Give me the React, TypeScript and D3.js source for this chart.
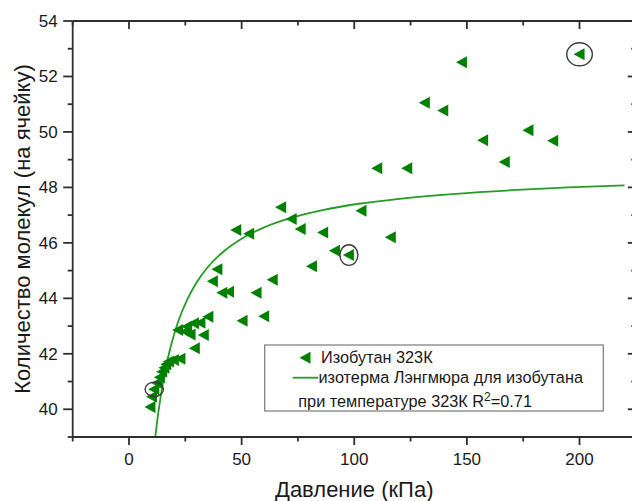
import React from "react";
import * as d3 from "d3";

// Scatter data: pressure (kPa) and number of molecules per cell
const pressure = [
  9.3, 10.0, 11.0, 12.3, 13.5, 14.5, 15.5, 16.3, 17.5, 19.7,
  22.6, 21.6, 24.9, 25.6, 27.1, 28.6, 31.5, 33.0, 35.0, 29.0,
  37.0, 39.0, 41.2, 44.2, 47.4, 50.2, 53.1, 56.4, 59.8, 63.6,
  67.3, 72.0, 76.0, 81.0, 86.0, 91.2, 97.4, 103.0, 110.0, 116.0,
  123.3, 131.1, 139.3, 147.6, 157.0, 166.6, 177.1, 188.1, 199.8,
];
const molecules = [
  40.08, 40.45, 40.72, 40.95, 41.15, 41.35, 41.5, 41.62, 41.72, 41.78,
  41.82, 42.86, 42.8, 42.98, 42.7, 43.1, 43.12, 42.68, 43.34, 42.2,
  44.62, 45.05, 44.2, 44.24, 46.46, 43.19, 46.33, 44.2, 43.35, 44.67,
  47.28, 46.86, 46.5, 45.16, 46.37, 45.72, 45.56, 47.16, 48.69, 46.2,
  48.69, 51.05, 50.77, 52.51, 49.7, 48.92, 50.06, 49.68, 52.8,
];

// Circled (highlighted) points: indices into the arrays above
const highlighted = [2, 36, 48];

// Langmuir isotherm fit
const fitPressure = [
  11.6, 12.5, 13.5, 15, 17, 19, 22, 26, 30, 35, 42, 50, 60, 72, 86,
  102, 120, 145, 170, 195, 220,
];
const fitMolecules = [
  38.96, 39.57, 40.16, 40.92, 41.75, 42.41, 43.2, 43.98, 44.57, 45.13,
  45.69, 46.15, 46.56, 46.9, 47.18, 47.41, 47.59, 47.77, 47.9, 48.0, 48.07,
];

const xMajorTicks = [0, 50, 100, 150, 200];
const xMinorTicks = [-25, 25, 75, 125, 175];
const yMajorTicks = [40, 42, 44, 46, 48, 50, 52, 54];
const yMinorTicks = [39, 41, 43, 45, 47, 49, 51, 53];

const xTitle = "Давление (кПа)";
const yTitle = "Количество молекул (на ячейку)";
const legendSeries = "Изобутан 323К";
const legendFit1 = "изотерма Лэнгмюра для изобутана";
const legendFit2a = "при температуре 323К R";
const legendFit2b = "2";
const legendFit2c = "=0.71";

const W = 632;
const H = 501;
const L = 72.7;
const R = 635.8;
const T = 21;
const B = 437;

const AXIS = "#2e2e2e";
const TEXT = "#1a1a1a";
const MARK = "#008000";
const FIT = "#259c25";
const FONT = "'Liberation Sans', Arial, sans-serif";

export default function App() {
  const x = d3.scaleLinear().domain([-25, 225]).range([L, R]);
  const y = d3.scaleLinear().domain([39, 54]).range([B, T]);

  const fitData = fitPressure.map((p, i) => [p, fitMolecules[i]] as [number, number]);
  const line = d3
    .line<[number, number]>()
    .x((d) => x(d[0]))
    .y((d) => y(d[1]))
    .curve(d3.curveMonotoneX);

  const tri = (cx: number, cy: number) =>
    `M${cx - 5.5},${cy} L${cx + 5.5},${cy - 6} L${cx + 5.5},${cy + 6} Z`;

  const circleR: Record<number, [number, number]> = {
    2: [9.2, 7.2],
    36: [9, 10.3],
    48: [12.8, 11.5],
  };

  return (
    <div style={{ position: "absolute", left: 0, top: 0, width: W, height: H, background: "#fff" }}>
      <svg width={W} height={H} style={{ display: "block" }} fontFamily={FONT}>
        <defs>
          <clipPath id="plotClip">
            <rect x={L} y={T} width={R - L} height={B - T} />
          </clipPath>
        </defs>

        {/* fit curve */}
        <path
          d={line(fitData) || ""}
          fill="none"
          stroke={FIT}
          strokeWidth={1.8}
          clipPath="url(#plotClip)"
        />

        {/* markers */}
        {pressure.map((p, i) => (
          <path key={i} d={tri(x(p), y(molecules[i]))} fill={MARK} />
        ))}

        {/* highlight circles */}
        {highlighted.map((i) => (
          <ellipse
            key={"c" + i}
            cx={x(pressure[i]) + 0.5}
            cy={y(molecules[i])}
            rx={circleR[i][0]}
            ry={circleR[i][1]}
            fill="none"
            stroke="#3a3a3a"
            strokeWidth={1.4}
          />
        ))}

        {/* axes lines */}
        <g stroke={AXIS} strokeWidth={1.8} fill="none">
          <line x1={L} y1={T} x2={L} y2={B} />
          <line x1={L} y1={B} x2={R} y2={B} />
          <line x1={L} y1={T} x2={R} y2={T} />
          <line x1={R} y1={T} x2={R} y2={B} />
        </g>

        {/* ticks */}
        <g stroke={AXIS} strokeWidth={1.8}>
          {xMajorTicks.map((t) => (
            <g key={"xm" + t}>
              <line x1={x(t)} x2={x(t)} y1={B} y2={B + 8} />
              <line x1={x(t)} x2={x(t)} y1={T} y2={T + 8} />
            </g>
          ))}
          {xMinorTicks.map((t) => (
            <g key={"xn" + t}>
              <line x1={x(t)} x2={x(t)} y1={B} y2={B + 4.5} />
              <line x1={x(t)} x2={x(t)} y1={T} y2={T + 4.5} />
            </g>
          ))}
          {yMajorTicks.map((t) => (
            <g key={"ym" + t}>
              <line x1={L - 9.5} x2={L} y1={y(t)} y2={y(t)} />
              <line x1={R - 8} x2={R} y1={y(t)} y2={y(t)} />
            </g>
          ))}
          {yMinorTicks.map((t) => (
            <g key={"yn" + t}>
              <line x1={L - 5} x2={L} y1={y(t)} y2={y(t)} />
              <line x1={R - 4.5} x2={R} y1={y(t)} y2={y(t)} />
            </g>
          ))}
        </g>

        {/* tick labels */}
        <g fill={TEXT} fontSize={17}>
          {xMajorTicks.map((t) => (
            <text key={"xl" + t} x={x(t)} y={B + 28} textAnchor="middle">
              {t}
            </text>
          ))}
          {yMajorTicks.map((t) => (
            <text key={"yl" + t} x={L - 15} y={y(t) + 6} textAnchor="end">
              {t}
            </text>
          ))}
        </g>

        {/* axis titles */}
        <text x={(L + R) / 2} y={497} textAnchor="middle" fontSize={22} fill={TEXT}>
          {xTitle}
        </text>
        <text
          transform={`translate(${30},${(T + B) / 2}) rotate(-90)`}
          textAnchor="middle"
          fontSize={22}
          fill={TEXT}
        >
          {yTitle}
        </text>

        {/* legend */}
        <rect x={264.7} y={345} width={338.6} height={66} fill="#fff" stroke="#7a7a7a" strokeWidth={1.2} />
        <path d={tri(305, 357.7)} fill={MARK} />
        <line x1={292.7} x2={318.3} y1={377.7} y2={377.7} stroke={FIT} strokeWidth={1.8} />
        <g fill={TEXT} fontSize={16.3}>
          <text x={321} y={363.3}>{legendSeries}</text>
          <text x={318.5} y={383}>{legendFit1}</text>
          <text x={298.3} y={406.7}>
            {legendFit2a}
            <tspan fontSize={12} dy={-6}>{legendFit2b}</tspan>
            <tspan dy={6}>{legendFit2c}</tspan>
          </text>
        </g>
      </svg>
    </div>
  );
}
